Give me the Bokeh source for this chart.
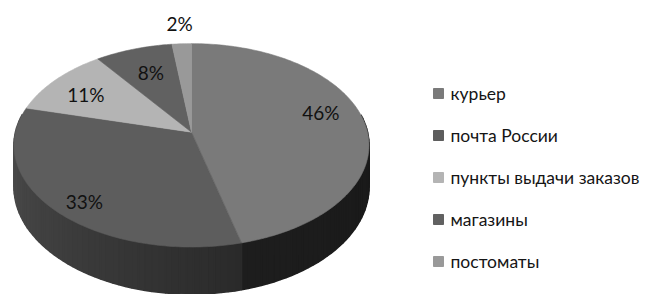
import math
from bokeh.plotting import figure
from bokeh.models import Range1d, ColumnDataSource
from bokeh.core.properties import value
from bokeh.embed import file_html
from bokeh.resources import INLINE

# ---- data ----
categories = ["курьер", "почта России", "пункты выдачи заказов", "магазины", "постоматы"]
shares = [46, 33, 11, 8, 2]
labels = [f"{s}%" for s in shares]

# ---- style ----
top_colors = [(122, 122, 122), (93, 93, 93), (180, 180, 180), (97, 97, 97), (153, 153, 153)]
# side shading factor at 90deg and 270deg (linear in angle), per slice
side_fac = [(0.20, 0.30), (0.17, 0.84), (0.5, 0.8), (0.5, 0.8), (0.5, 0.8)]
label_r = [0.75, 0.75, 0.75, 0.75, 1.25]
label_nudge = [(0, -10), (-7, 12), (-2, 2), (4, 4), (0, -1)]

CX, CY, A, B, K, H = 191.0, 131.7, 176.0, 100.0, 0.129, 41.0


def proj(r, phi, bottom=False):
    ph = math.radians(phi)
    u = r * math.sin(ph)
    v = -r * math.cos(ph)
    s = 1.0 / (1.0 - K * v)
    x = CX + A * u * s
    y = CY + B * v * s + (H * s if bottom else 0.0)
    return x, y, v


def hexc(rgb):
    return "#%02x%02x%02x" % tuple(max(0, min(255, int(round(c)))) for c in rgb)


total = float(sum(shares))
bounds = []
acc = 0.0
for s in shares:
    a0 = acc / total * 360.0
    acc += s
    a1 = acc / total * 360.0
    bounds.append((a0, a1))

W, Hh = 646, 294
p = figure(width=W, height=Hh, output_backend="svg", toolbar_location=None,
           x_range=Range1d(0, W), y_range=Range1d(Hh, 0),
           min_border=0, outline_line_color=None)
p.axis.visible = False
p.grid.visible = False
p.background_fill_color = "white"
p.border_fill_color = "white"

# ---- side strips (front-facing part, drawn back to front) ----
strips = []
for i, (a0, a1) in enumerate(bounds):
    n = max(1, int(math.ceil((a1 - a0) / 2.0)))
    for j in range(n):
        p1 = a0 + (a1 - a0) * j / n
        p2 = a0 + (a1 - a0) * (j + 1) / n
        pm = (p1 + p2) / 2
        if not (80.0 <= pm <= 280.0):
            continue
        x1, y1, v1 = proj(1, p1)
        x2, y2, v2 = proj(1, p2)
        x3, y3, _ = proj(1, p2, True)
        x4, y4, _ = proj(1, p1, True)
        t = min(1.0, max(0.0, (pm - 90.0) / 180.0))
        f = side_fac[i][0] + (side_fac[i][1] - side_fac[i][0]) * t
        col = hexc([c * f for c in top_colors[i]])
        strips.append(((v1 + v2) / 2, [x1, x2, x3, x4], [y1, y2, y3, y4], col))
strips.sort(key=lambda s: s[0])
ssrc = ColumnDataSource(dict(xs=[s[1] for s in strips], ys=[s[2] for s in strips],
                             c=[s[3] for s in strips]))
p.patches("xs", "ys", source=ssrc, fill_color="c", line_color="c", line_width=1.6)

# ---- top surfaces ----
txs, tys, tcs = [], [], []
for i, (a0, a1) in enumerate(bounds):
    n = max(2, int(math.ceil((a1 - a0) / 1.0)))
    xs, ys = [CX], [CY]
    for j in range(n + 1):
        x, y, _ = proj(1, a0 + (a1 - a0) * j / n)
        xs.append(x)
        ys.append(y)
    txs.append(xs)
    tys.append(ys)
    tcs.append(hexc(top_colors[i]))
p.patches(txs, tys, fill_color=tcs, line_color=tcs, line_width=0.6)

# ---- percent labels ----
lx, ly = [], []
for i, (a0, a1) in enumerate(bounds):
    x, y, _ = proj(label_r[i], (a0 + a1) / 2)
    lx.append(x + label_nudge[i][0])
    ly.append(y + label_nudge[i][1])
p.text(lx, ly, text=labels, text_font=value("Lato"), text_font_size="19px",
       text_align="center", text_baseline="middle", text_color="#111111")

# ---- legend ----
leg_x, leg_y0, leg_dy = 438, 93, 42
gy = [leg_y0 + leg_dy * i for i in range(len(categories))]
p.rect([leg_x] * len(categories), gy, width=10, height=10, width_units="screen",
       height_units="screen", fill_color=tcs, line_color=tcs)
p.text([leg_x + 12] * len(categories), gy, text=categories, text_font=value("Lato"),
       text_font_size="17.5px", text_align="left", text_baseline="middle", text_color="#151515")

open("out.html", "w").write(file_html(p, INLINE))
